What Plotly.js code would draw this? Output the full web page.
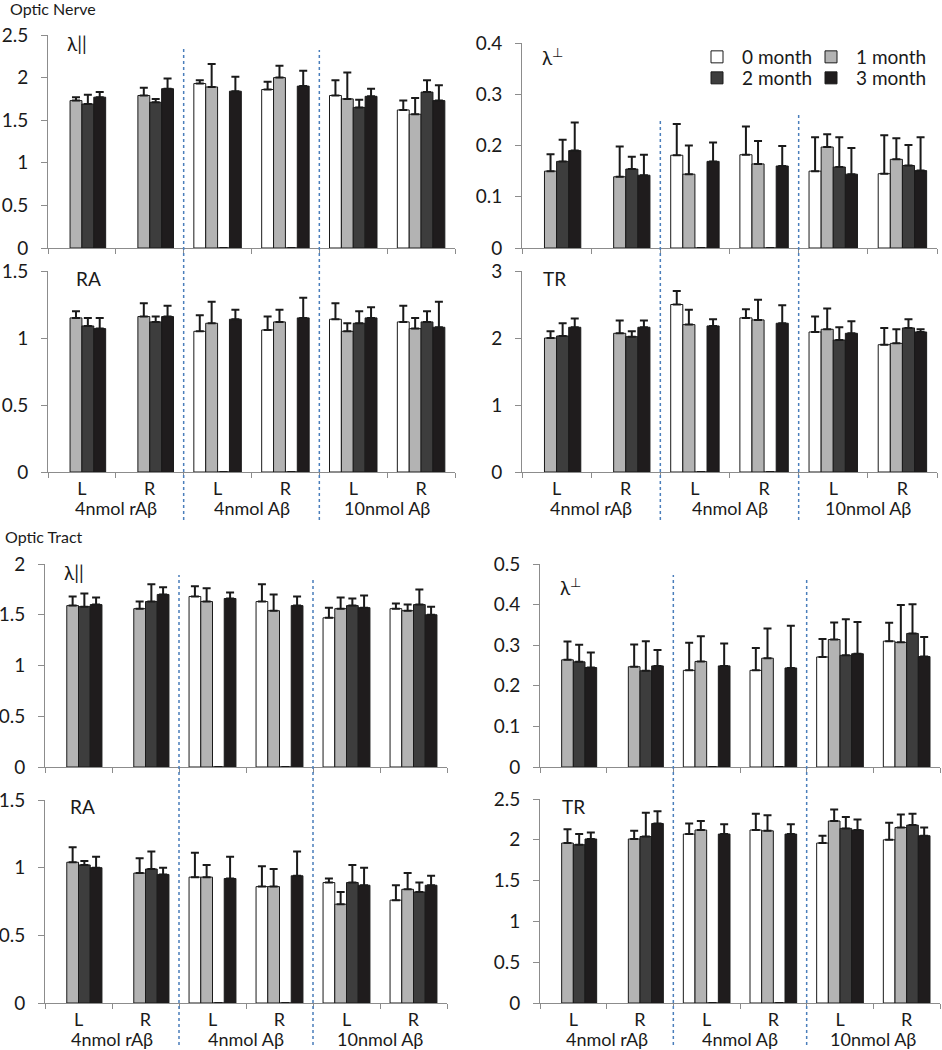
<!DOCTYPE html>
<html><head><meta charset="utf-8">
<script src="https://cdn.plot.ly/plotly-3.0.1.min.js"></script>
<style>html,body{margin:0;padding:0;background:#fff}#chart{width:942px;height:1050px}</style>
</head><body><div id="chart"></div>
<script>
const W = 942, H = 1050;

// ---------- data ----------
const categories = ['L', 'R', 'L', 'R', 'L', 'R'];
const groups = ['4nmol rAβ', '4nmol Aβ', '10nmol Aβ'];
const seriesNames = ['0 month', '1 month', '2 month', '3 month'];
const sectionTitles = ['Optic Nerve', 'Optic Tract'];
const panelLabels = ['λ||', 'RA', 'λ<sup>⊥</sup>', 'TR', 'λ||', 'λ<sup>⊥</sup>', 'RA', 'TR'];

// Optic nerve, λ||  (rows: 0,1,2,3 month; columns: the 6 categories)
const onLparMean = [
  [null, null, 1.93, 1.86, 1.79, 1.62],
  [1.73, 1.79, 1.89, 2.00, 1.75, 1.57],
  [1.69, 1.71, 0, 0, 1.65, 1.83],
  [1.77, 1.87, 1.84, 1.90, 1.78, 1.73]];
const onLparErr = [
  [null, null, 0.04, 0.09, 0.18, 0.11],
  [0.04, 0.09, 0.27, 0.14, 0.31, 0.19],
  [0.11, 0.04, 0, 0, 0.09, 0.14],
  [0.06, 0.12, 0.17, 0.18, 0.09, 0.18]];

// Optic nerve, RA
const onRaMean = [
  [null, null, 1.05, 1.06, 1.14, 1.12],
  [1.15, 1.16, 1.11, 1.12, 1.05, 1.07],
  [1.09, 1.12, 0, 0, 1.11, 1.12],
  [1.07, 1.16, 1.14, 1.15, 1.15, 1.08]];
const onRaErr = [
  [null, null, 0.12, 0.10, 0.12, 0.12],
  [0.05, 0.10, 0.16, 0.09, 0.06, 0.08],
  [0.06, 0.04, 0, 0, 0.09, 0.08],
  [0.08, 0.08, 0.07, 0.15, 0.08, 0.19]];

// Optic nerve, λ⊥
const onLperpMean = [
  [null, null, 0.181, 0.182, 0.150, 0.145],
  [0.150, 0.139, 0.144, 0.164, 0.197, 0.173],
  [0.169, 0.154, 0, 0, 0.158, 0.161],
  [0.190, 0.142, 0.169, 0.160, 0.144, 0.151]];
const onLperpErr = [
  [null, null, 0.061, 0.055, 0.066, 0.075],
  [0.033, 0.059, 0.056, 0.045, 0.025, 0.041],
  [0.042, 0.024, 0, 0, 0.058, 0.040],
  [0.055, 0.040, 0.037, 0.039, 0.051, 0.065]];

// Optic nerve, TR
const onTrMean = [
  [null, null, 2.50, 2.30, 2.09, 1.90],
  [2.00, 2.07, 2.20, 2.27, 2.13, 1.92],
  [2.03, 2.02, 0, 0, 1.97, 2.15],
  [2.16, 2.16, 2.18, 2.22, 2.07, 2.09]];
const onTrErr = [
  [null, null, 0.20, 0.13, 0.23, 0.25],
  [0.10, 0.19, 0.22, 0.30, 0.31, 0.21],
  [0.19, 0.08, 0, 0, 0.19, 0.13],
  [0.13, 0.10, 0.10, 0.27, 0.18, 0.04]];

// Optic tract, λ||
const otLparMean = [
  [null, null, 1.68, 1.63, 1.47, 1.56],
  [1.59, 1.56, 1.63, 1.54, 1.56, 1.54],
  [1.58, 1.63, 0, 0, 1.59, 1.60],
  [1.60, 1.70, 1.66, 1.59, 1.57, 1.50]];
const otLparErr = [
  [null, null, 0.10, 0.17, 0.10, 0.05],
  [0.09, 0.07, 0.13, 0.16, 0.11, 0.06],
  [0.13, 0.17, 0, 0, 0.07, 0.15],
  [0.07, 0.07, 0.06, 0.09, 0.12, 0.08]];

// Optic tract, λ⊥
const otLperpMean = [
  [null, null, 0.238, 0.238, 0.271, 0.310],
  [0.264, 0.247, 0.260, 0.268, 0.314, 0.307],
  [0.259, 0.237, 0, 0, 0.275, 0.329],
  [0.245, 0.249, 0.249, 0.244, 0.279, 0.272]];
const otLperpErr = [
  [null, null, 0.068, 0.055, 0.044, 0.045],
  [0.045, 0.055, 0.062, 0.073, 0.042, 0.092],
  [0.042, 0.073, 0, 0, 0.089, 0.072],
  [0.037, 0.039, 0.055, 0.104, 0.078, 0.048]];

// Optic tract, RA
const otRaMean = [
  [null, null, 0.93, 0.86, 0.89, 0.76],
  [1.04, 0.96, 0.93, 0.86, 0.73, 0.84],
  [1.02, 0.99, 0, 0, 0.89, 0.82],
  [1.00, 0.95, 0.92, 0.94, 0.87, 0.87]];
const otRaErr = [
  [null, null, 0.18, 0.15, 0.03, 0.11],
  [0.11, 0.11, 0.09, 0.13, 0.09, 0.12],
  [0.03, 0.13, 0, 0, 0.13, 0.07],
  [0.08, 0.05, 0.16, 0.18, 0.13, 0.07]];

// Optic tract, TR
const otTrMean = [
  [null, null, 2.07, 2.12, 1.96, 2.00],
  [1.96, 2.01, 2.12, 2.11, 2.23, 2.15],
  [1.94, 2.04, 0, 0, 2.14, 2.18],
  [2.01, 2.20, 2.07, 2.07, 2.12, 2.05]];
const otTrErr = [
  [null, null, 0.13, 0.20, 0.09, 0.21],
  [0.17, 0.10, 0.11, 0.19, 0.14, 0.16],
  [0.13, 0.29, 0, 0, 0.14, 0.14],
  [0.08, 0.15, 0.12, 0.12, 0.13, 0.10]];

const yMax = [2.5, 1.5, 0.4, 3, 2, 0.5, 1.5, 2.5];
const yStep = [0.5, 0.5, 0.1, 1, 0.5, 0.1, 0.5, 0.5];

// ---------- layout geometry (pixels) ----------
const px = v => v / W;
const py = v => 1 - v / H;
const panels = [
  {mean: onLparMean, err: onLparErr, x: [48, 455], y: [35, 248], lab: [65, 43], xl: false},
  {mean: onRaMean, err: onRaErr, x: [48, 455], y: [271, 472], lab: [74, 278], xl: true},
  {mean: onLperpMean, err: onLperpErr, x: [522, 937], y: [43, 248], lab: [540, 57], xl: false},
  {mean: onTrMean, err: onTrErr, x: [522, 937], y: [271, 472], lab: [541, 278], xl: true},
  {mean: otLparMean, err: otLparErr, x: [45, 447], y: [564, 767], lab: [62, 572], xl: false},
  {mean: otLperpMean, err: otLperpErr, x: [540, 940], y: [564, 767], lab: [558, 586], xl: false},
  {mean: otRaMean, err: otRaErr, x: [45, 447], y: [800, 1003], lab: [68, 806], xl: true},
  {mean: otTrMean, err: otTrErr, x: [540, 940], y: [799, 1003], lab: [560, 806], xl: true}
];
const colors = ['#ffffff', '#b3b3b3', '#3d3d3d', '#1f1c1d'];
const xs = [0, 1, 2, 3, 4, 5];
const ink = '#1a1a1a';
const axisGray = '#8c8c8c';
// one legend box per entry, 2 x 2 arrangement
const legendPos = [[692, 57], [806, 57], [692, 78], [806, 78]];
const legendKeys = ['legend', 'legend2', 'legend3', 'legend4'];

const traces = [];
const layout = {
  width: W, height: H,
  margin: {l: 0, r: 0, t: 0, b: 0},
  paper_bgcolor: '#fff', plot_bgcolor: 'rgba(0,0,0,0)',
  font: {family: 'Lato, "Open Sans", sans-serif', color: ink, size: 18},
  barmode: 'group', bargap: 0.3, bargroupgap: 0,
  showlegend: true,
  annotations: [], shapes: []
};
legendKeys.forEach((k, s) => {
  layout[k] = {x: px(legendPos[s][0]), y: py(legendPos[s][1]), xanchor: 'left', yanchor: 'middle',
               font: {size: 19}, bgcolor: 'rgba(0,0,0,0)', itemwidth: 40, tracegroupgap: 0};
});

panels.forEach((p, i) => {
  const n = i === 0 ? '' : String(i + 1);
  for (let s = 0; s < 4; s++) {
    traces.push({
      type: 'bar', x: xs, y: p.mean[s], name: seriesNames[s],
      xaxis: 'x' + n, yaxis: 'y' + n,
      marker: {color: colors[s], line: {color: ink, width: 1}},
      error_y: {type: 'data', symmetric: false, array: p.err[s], arrayminus: xs.map(() => 0),
                color: ink, thickness: 2, width: 4},
      showlegend: i === 2, legend: legendKeys[s],
      hoverinfo: 'skip'
    });
  }
  layout['xaxis' + n] = {
    domain: [px(p.x[0]), px(p.x[1])], anchor: 'y' + n, range: [-0.5, 5.5],
    tickmode: 'array', tickvals: xs, ticktext: categories, showticklabels: p.xl,
    ticks: '', showline: true, linecolor: axisGray, linewidth: 1,
    showgrid: false, zeroline: false, tickfont: {size: 18},
    minor: {tickmode: 'array', tickvals: [-0.5, 0.5, 1.5, 2.5, 3.5, 4.5, 5.5],
            ticks: 'outside', ticklen: 5, tickcolor: axisGray, showgrid: false},
    fixedrange: true
  };
  layout['yaxis' + n] = {
    domain: [py(p.y[1]), py(p.y[0])], anchor: 'x' + n, range: [0, yMax[i]],
    tickmode: 'linear', tick0: 0, dtick: yStep[i],
    ticks: 'outside', ticklen: 6, tickcolor: axisGray, showline: true, linecolor: axisGray,
    linewidth: 1, showgrid: false, zeroline: false, tickfont: {size: 19},
    ticklabelstandoff: 9, fixedrange: true
  };
  layout.annotations.push({
    text: panelLabels[i], xref: 'paper', yref: 'paper', x: px(p.lab[0]), y: py(p.lab[1]),
    xanchor: 'left', yanchor: 'middle', showarrow: false, font: {size: 19}
  });
  if (p.xl) {
    groups.forEach((g, k) => layout.annotations.push({
      text: g, xref: 'x' + n, yref: 'paper', x: 2 * k + 0.5, y: py(p.y[1] + 36),
      xanchor: 'center', yanchor: 'middle', showarrow: false, font: {size: 18}
    }));
  }
});

layout.annotations.push(
  {text: sectionTitles[0], xref: 'paper', yref: 'paper', x: px(8), y: py(8), xanchor: 'left', yanchor: 'middle', showarrow: false, font: {size: 16}},
  {text: sectionTitles[1], xref: 'paper', yref: 'paper', x: px(3), y: py(536), xanchor: 'left', yanchor: 'middle', showarrow: false, font: {size: 16}}
);

// blue dotted dividers between treatment groups
const dividers = [
  {xref: 'x', x: 1.5, top: 47, bottom: 520}, {xref: 'x', x: 3.5, top: 50, bottom: 520},
  {xref: 'x3', x: 1.5, top: 120, bottom: 520}, {xref: 'x3', x: 3.5, top: 112, bottom: 520},
  {xref: 'x5', x: 1.5, top: 575, bottom: 1045}, {xref: 'x5', x: 3.5, top: 578, bottom: 1045},
  {xref: 'x6', x: 1.5, top: 575, bottom: 1045}, {xref: 'x6', x: 3.5, top: 578, bottom: 1045}
];
dividers.forEach(d => layout.shapes.push({
  type: 'line', xref: d.xref, yref: 'paper', x0: d.x, x1: d.x, y0: py(d.bottom), y1: py(d.top),
  line: {color: '#4a7ebb', width: 1.5, dash: 'dot'}
}));

Plotly.newPlot('chart', traces, layout, {staticPlot: true, displayModeBar: false});
</script>
</body></html>
